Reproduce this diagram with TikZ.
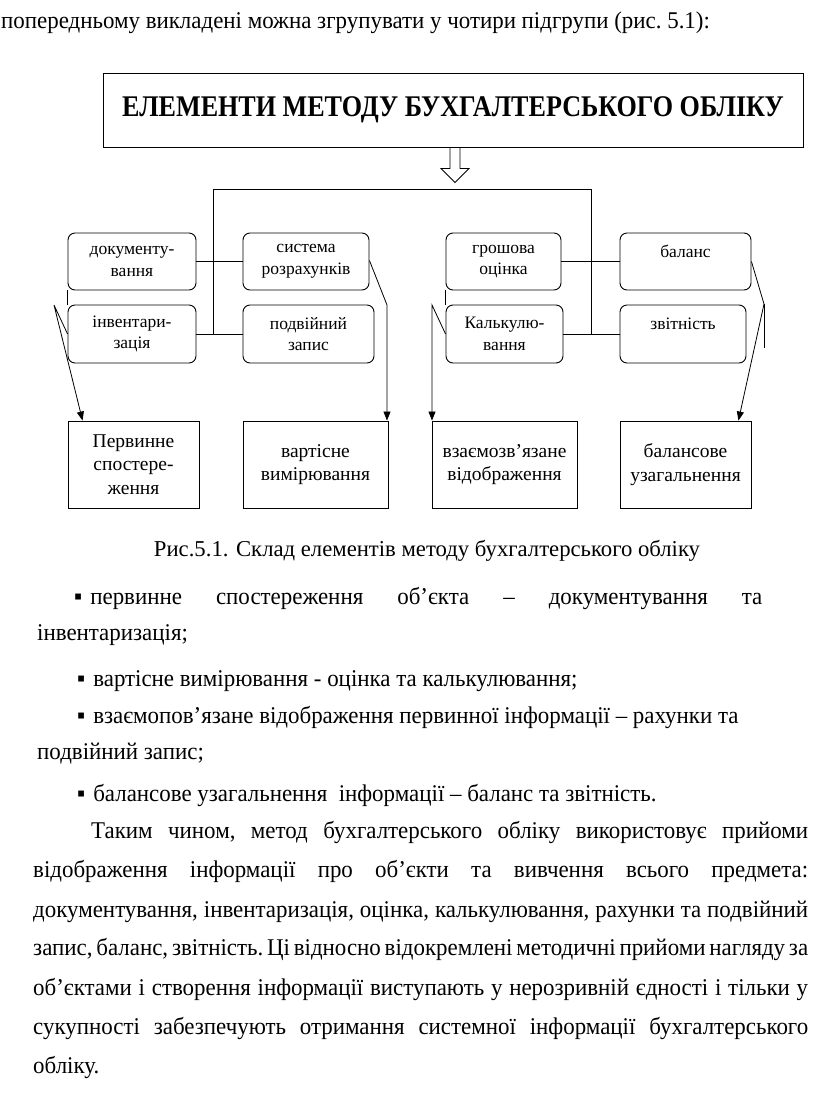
\documentclass[tikz,border=0pt]{standalone}
\usepackage{fontspec}
\setmainfont{Liberation Serif}
\newfontfamily\narrowserif{Liberation Serif}[FakeStretch=0.955]
\newfontfamily\headserif{Liberation Serif}[FakeStretch=0.87]
\usetikzlibrary{arrows.meta}
\usetikzlibrary{positioning}

\newcommand{\bodytext}{\narrowserif\fontsize{24}{28}\selectfont\frenchspacing}
\newcommand{\fullline}[2]{\makebox[#1][s]{#2}}

\begin{document}
\begin{tikzpicture}[x=1pt, y=-1pt,
    elem/.style={draw, rounded corners=7pt, line width=0.9pt, minimum height=57pt,
        align=center, inner sep=2pt, font=\fontsize{17.5}{21.5}\selectfont},
    group/.style={draw, line width=0.9pt, minimum height=87pt,
        align=center, inner sep=2pt, font=\fontsize{19.5}{23.5}\selectfont},
    link/.style={line width=0.8pt},
    tip/.style={link, -{Triangle[length=9pt, width=7pt]}},
    txt/.style={anchor=base west, inner sep=0pt, font=\bodytext}]
    \useasboundingbox (0,0) rectangle (816,1093);

    % text above the figure
    \node[txt] (intro) at (1,28) {попередньому викладені можна згрупувати у чотири підгрупи (рис. 5.1):};

    % heading box and hollow arrow
    \node[draw, line width=1pt, minimum width=700pt, minimum height=74pt,
        font=\headserif\bfseries\fontsize{30}{34}\selectfont] (head) at (453,110)
        {ЕЛЕМЕНТИ МЕТОДУ БУХГАЛТЕРСЬКОГО ОБЛІКУ};
    \draw[line width=0.8pt] ([xshift=-3pt]head.south) -- ++(0,21) -- ++(-9,0)
        -- ++(14,14) -- ++(14,-14) -- ++(-9,0) -- ([xshift=7pt]head.south);

    % methods
    \node[elem, minimum width=128pt] (doc) at (132,261.5) {документу-\\вання};
    \node[elem, minimum width=126pt] (sys) at (306,261.5) {система\\розрахунків};
    \node[elem, minimum width=128pt, minimum height=58pt] (inv) at (132,334) {інвентари-\\зація};
    \node[elem, minimum width=131pt, minimum height=58pt] (pod) at (308.5,334) {подвійний\\запис};
    \node[elem, minimum width=115pt] (grosh) at (503.5,261.5) {грошова\\оцінка};
    \node[elem, minimum width=117pt, minimum height=58pt] (kalk) at (504.5,334) {Калькулю-\\вання};
    \node[elem, minimum width=131pt] (bal) at (685.5,261.5) {баланс\\\mbox{}};
    \node[elem, minimum width=126pt, minimum height=58pt] (zvit) at (683,334) {звітність\\\mbox{}};

    % groups
    \node[group, minimum width=131pt] (perv) at (133.5,464.5) {Первинне\\спостере-\\ження};
    \node[group, minimum width=145pt] (vart) at (315.5,464.5) {вартісне\\вимірювання};
    \node[group, minimum width=145pt] (vzaem) at (504.5,464.5) {взаємозв’язане\\відображення};
    \node[group, minimum width=131pt] (balz) at (685.5,464.5) {балансове\\узагальнення};

    % bus lines
    \coordinate (busL) at (213,189);
    \coordinate (busR) at (591,189);
    \draw[link] (busL) -- (busR);
    \draw[link] (busL) -- (busL |- inv.east);
    \draw[link] (busR) -- (busR |- kalk.east);
    \draw[link] (doc.east) -- (sys.west);
    \draw[link] (inv.east) -- (pod.west);
    \draw[link] (grosh.east) -- (bal.west);
    \draw[link] (kalk.east) -- (zvit.west);
    \draw[link] (doc.south west) -- (inv.north west);
    \draw[link] (grosh.south west) -- (kalk.north west);

    % arrows to the groups
    \coordinate (apexA) at (54,305);
    \coordinate (apexB) at (387,305);
    \coordinate (apexC) at (432,305);
    \coordinate (apexD) at (764,304);
    \coordinate (tailD) at (764,348);
    \draw[tip] (inv.west) -- (apexA) -- ([xshift=15pt]perv.north west);
    \draw[tip] ([yshift=1pt]sys.east) -- (apexB) -- (apexB |- vart.north);
    \draw[tip] (kalk.west) -- (apexC) -- (apexC |- vzaem.north);
    \draw[tip] (bal.east) -- (apexD) -- ([xshift=-13pt]balz.north east);
    \draw[link] (apexD) -- (tailD);

    % caption
    \node[font=\fontsize{22.7}{26}\selectfont, anchor=base] (cap) at (427,556)
        {Рис.5.1. Склад елементів методу бухгалтерського обліку};

    % list
    \node[txt] (l1) at (74,604) {▪\hspace{8pt}\fullline{672pt}{первинне спостереження об’єкта – документування та}};
    \node[txt] (l2) at (37,640) {інвентаризація;};
    \node[txt] (l3) at (77,686) {▪\hspace{8pt}вартісне вимірювання - оцінка та калькулювання;};
    \node[txt] (l4) at (77,723) {▪\hspace{8pt}взаємопов’язане відображення первинної інформації – рахунки та};
    \node[txt] (l5) at (37,759) {подвійний запис;};
    \node[txt] (l6) at (77,801) {▪\hspace{8pt}балансове узагальнення\ \ інформації – баланс та звітність.};

    % paragraph
    \node[txt] (p1) at (91,838) {\fullline{717pt}{Таким чином, метод бухгалтерського обліку використовує прийоми}};
    \node[txt] (p2) at (33,877) {\fullline{775pt}{відображення інформації про об’єкти та вивчення всього предмета:}};
    \node[txt] (p3) at (33,917) {\fullline{775pt}{документування, інвентаризація, оцінка, калькулювання, рахунки та подвійний}};
    \node[txt] (p4) at (33,955) {\fullline{775pt}{запис, баланс, звітність. Ці відносно відокремлені методичні прийоми нагляду за}};
    \node[txt] (p5) at (33,995) {\fullline{775pt}{об’єктами і створення інформації виступають у нерозривній єдності і тільки у}};
    \node[txt] (p6) at (33,1034) {\fullline{775pt}{сукупності забезпечують отримання системної інформації бухгалтерського}};
    \node[txt] (p7) at (33,1073) {обліку.};
\end{tikzpicture}
\end{document}
